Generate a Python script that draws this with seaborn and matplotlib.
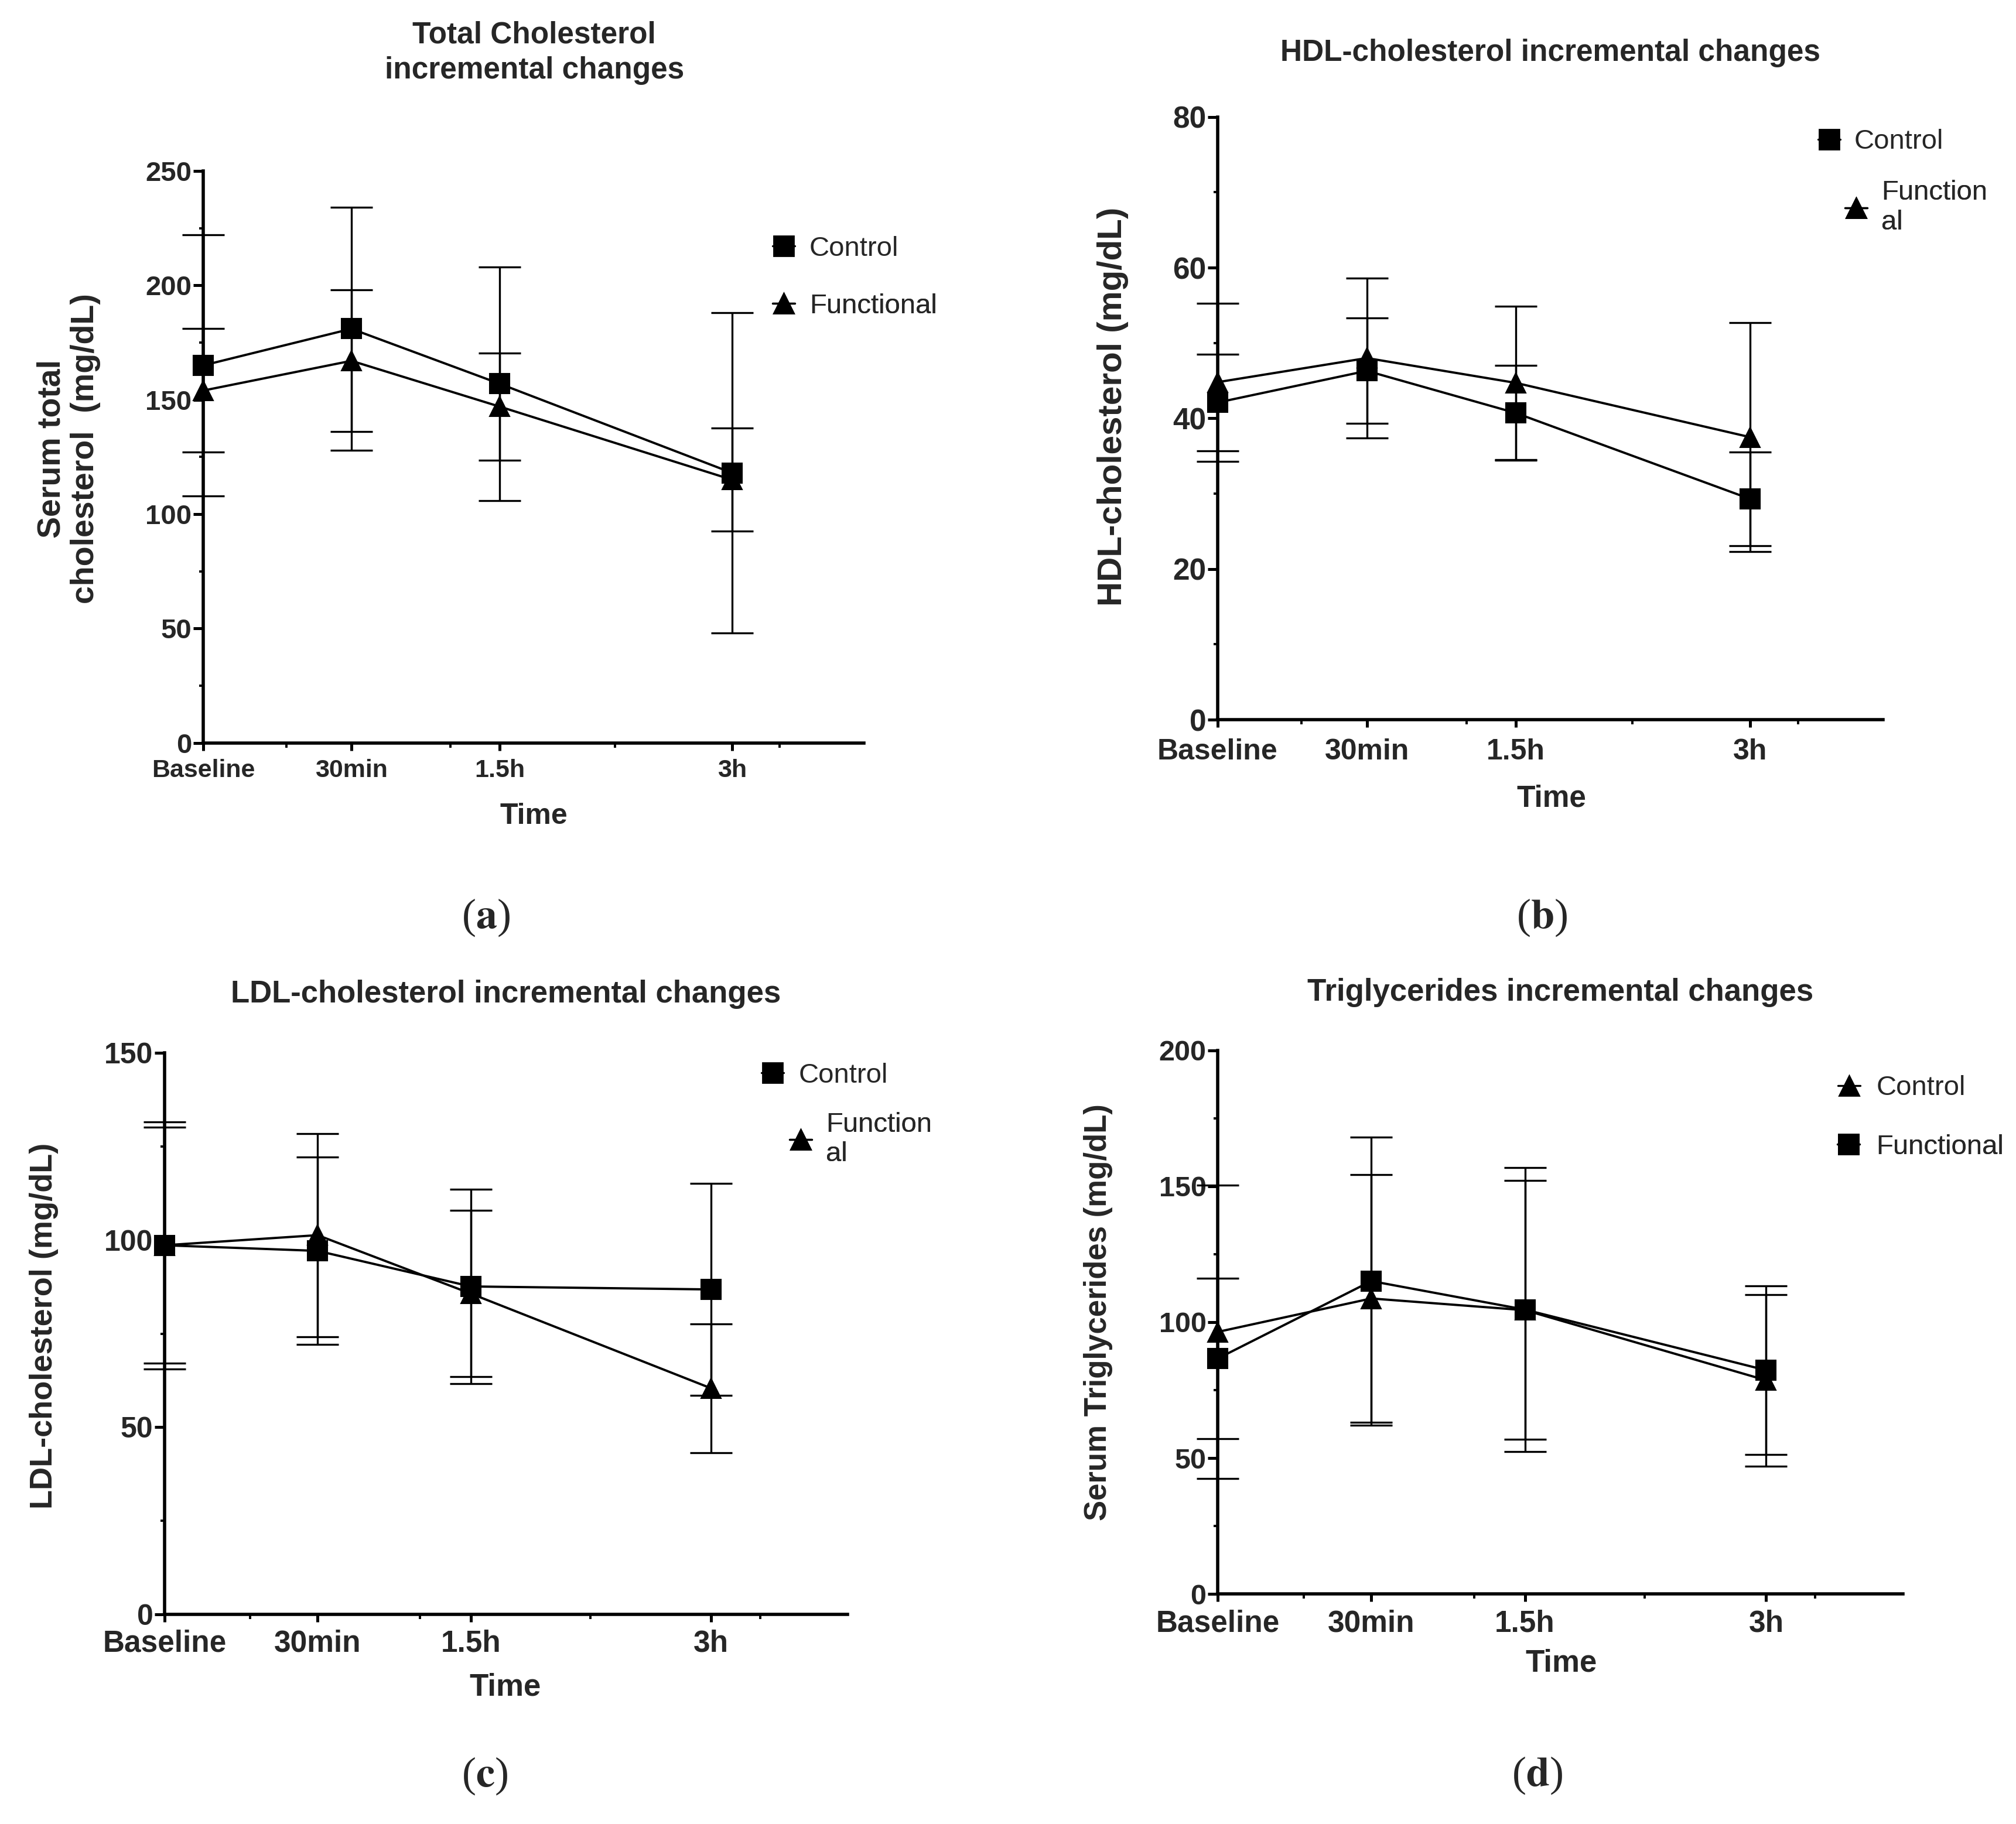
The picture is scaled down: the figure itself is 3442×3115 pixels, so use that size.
import numpy as np
import pandas as pd
import matplotlib
matplotlib.use("Agg")
import matplotlib.pyplot as plt
import seaborn as sns
from matplotlib.lines import Line2D
from matplotlib.ticker import FixedLocator, MultipleLocator

# ---------------- data ----------------
time_labels = ["Baseline", "30min", "1.5h", "3h"]

tc_control_mean = [165, 181, 157, 118]
tc_control_sd = [57, 53, 51, 70]
tc_functional_mean = [154, 167, 147, 115]
tc_functional_sd = [27, 31, 23.5, 22.5]

hdl_control_mean = [42.1, 46.3, 40.7, 29.3]
hdl_control_sd = [6.4, 7.0, 6.3, 6.2]
hdl_functional_mean = [44.8, 48.0, 44.7, 37.5]
hdl_functional_sd = [10.5, 10.6, 10.2, 15.2]

ldl_control_mean = [98.6, 97.1, 87.6, 86.8]
ldl_control_sd = [33.0, 25.0, 26.0, 28.3]
ldl_functional_mean = [98.6, 101.3, 85.7, 60.4]
ldl_functional_sd = [31.5, 27.1, 22.2, 17.2]

tg_control_mean = [96.4, 108.7, 104.4, 78.6]
tg_control_sd = [54.0, 45.6, 47.6, 31.5]
tg_functional_mean = [86.6, 115.1, 104.6, 82.3]
tg_functional_sd = [29.5, 53.0, 52.3, 31.0]

# ---------------- style ----------------
sns.set_theme(style="ticks")
plt.rcParams["font.family"] = ["Liberation Sans", "DejaVu Sans"]
plt.rcParams["mathtext.fontset"] = "stix"

W_PX, H_PX, DPI = 3442, 3115, 200
x_pos = [0, 1, 2, 3.57]
x_minor = [0.56, 1.67, 2.78, 3.89]
x_max = 4.46
LEG_FS = 17
HLEN = 0.8

fig = plt.figure(figsize=(W_PX / DPI, H_PX / DPI), dpi=DPI)

panels = [
    dict(rect=[0.1008, 0.5927, 0.3278, 0.3136], ymax=250, ymaj=50, ymin=25,
         c=(tc_control_mean, tc_control_sd), f=(tc_functional_mean, tc_functional_sd),
         markers={"Control": "s", "Functional": "^"},
         leg=[("Control", "Control", 0.3887, 0.8636, 0.4015),
              ("Functional", "Functional", 0.3887, 0.8321, 0.4015)],
         xtick_fs=15.5, ytick_fs=17, xpad=5),
    dict(rect=[0.604, 0.6054, 0.330, 0.3305], ymax=80, ymaj=20, ymin=10,
         c=(hdl_control_mean, hdl_control_sd), f=(hdl_functional_mean, hdl_functional_sd),
         markers={"Control": "s", "Functional": "^"},
         leg=[("Control", "Control", 0.9073, 0.9223, 0.9198),
              ("Functional", "Function\nal", 0.9207, 0.8863, 0.9332)],
         xtick_fs=18, ytick_fs=18.5, xpad=6.5),
    dict(rect=[0.0816, 0.1149, 0.3387, 0.3079], ymax=150, ymaj=50, ymin=25,
         c=(ldl_control_mean, ldl_control_sd), f=(ldl_functional_mean, ldl_functional_sd),
         markers={"Control": "s", "Functional": "^"},
         leg=[("Control", "Control", 0.3832, 0.4103, 0.3963),
              ("Functional", "Function\nal", 0.3972, 0.3753, 0.4097)],
         xtick_fs=18.5, ytick_fs=18, xpad=4.5),
    dict(rect=[0.604, 0.1261, 0.3399, 0.2981], ymax=200, ymaj=50, ymin=25,
         c=(tg_control_mean, tg_control_sd), f=(tg_functional_mean, tg_functional_sd),
         markers={"Control": "^", "Functional": "s"},
         leg=[("Control", "Control", 0.9172, 0.4035, 0.9306),
              ("Functional", "Functional", 0.9169, 0.3711, 0.9306)],
         xtick_fs=18.5, ytick_fs=17.5, xpad=4.5),
]

fs_px = LEG_FS * DPI / 72.0

for p in panels:
    ax = fig.add_axes(p["rect"])
    rows = []
    for grp, (m, s) in (("Control", p["c"]), ("Functional", p["f"])):
        for xi, mi, si in zip(x_pos, m, s):
            rows.append(dict(x=xi, mean=mi, sd=si, group=grp))
    df = pd.DataFrame(rows)
    for grp in ["Control", "Functional"]:
        d = df[df.group == grp]
        eb = ax.errorbar(d.x, d["mean"], yerr=d.sd, fmt="none", ecolor="black",
                         elinewidth=1.2, capsize=13, capthick=1.2, zorder=2)
        for art in list(eb.lines[1]) + list(eb.lines[2]):
            art.set_clip_on(False)
    sns.lineplot(data=df, x="x", y="mean", hue="group", style="group",
                 markers=p["markers"], dashes=False,
                 palette={"Control": "black", "Functional": "black"},
                 markersize=12.5, markeredgecolor="black", linewidth=1.4,
                 legend=False, ax=ax, zorder=3)
    for ln in ax.lines:
        ln.set_clip_on(False)

    ax.set_xlim(0, x_max)
    ax.set_ylim(0, p["ymax"])
    ax.set_xticks(x_pos)
    ax.set_xticklabels(time_labels, fontsize=p["xtick_fs"], fontweight="bold")
    ax.xaxis.set_minor_locator(FixedLocator(x_minor))
    ax.yaxis.set_major_locator(MultipleLocator(p["ymaj"]))
    ax.yaxis.set_minor_locator(MultipleLocator(p["ymin"]))
    for lab in ax.get_yticklabels():
        lab.set_fontsize(p["ytick_fs"])
        lab.set_fontweight("bold")
    ax.set_xlabel("")
    ax.set_ylabel("")
    sns.despine(ax=ax)
    for sp in ("left", "bottom"):
        ax.spines[sp].set_linewidth(2.0)
        ax.spines[sp].set_color("black")
    ax.tick_params(axis="y", which="major", length=6, width=1.8, color="black", pad=1)
    ax.tick_params(axis="y", which="minor", length=2.6, width=1.4, color="black")
    ax.tick_params(axis="x", which="major", length=4.8, width=1.8, color="black",
                   pad=p["xpad"])
    ax.tick_params(axis="x", which="minor", length=3.0, width=1.4, color="black")
    ax.grid(False)

    for grp, label, mx, my, tx in p["leg"]:
        h = Line2D([0], [0], color="black", lw=1.2, marker=p["markers"][grp],
                   markersize=12, markerfacecolor="black", markeredgecolor="black")
        pad = (tx - mx) * W_PX / fs_px - HLEN / 2
        anchor_x = mx - (HLEN / 2) * fs_px / W_PX
        leg = ax.legend([h], [label], loc="center left", bbox_to_anchor=(anchor_x, my),
                        bbox_transform=fig.transFigure, frameon=False, fontsize=LEG_FS,
                        handlelength=HLEN, handletextpad=pad, borderaxespad=0,
                        borderpad=0)
        ax.add_artist(leg)

# titles
title_kw = dict(ha="center", va="center", fontweight="bold")
fig.text(0.265, 0.971, "Total Cholesterol\nincremental changes", fontsize=18.5,
         linespacing=1.3, **title_kw)
fig.text(0.769, 0.971, "HDL-cholesterol incremental changes", fontsize=18.5, **title_kw)
fig.text(0.251, 0.455, "LDL-cholesterol incremental changes", fontsize=19, **title_kw)
fig.text(0.774, 0.456, "Triglycerides incremental changes", fontsize=19, **title_kw)

# y labels
ylab_kw = dict(ha="center", va="center", rotation=90, fontweight="bold")
fig.text(0.034, 0.754, "Serum total\ncholesterol  (mg/dL)", fontsize=20,
         linespacing=1.15, **ylab_kw)
fig.text(0.552, 0.777, "HDL-cholesterol (mg/dL)", fontsize=21, **ylab_kw)
fig.text(0.0219, 0.273, "LDL-cholesterol (mg/dL)", fontsize=19.5, **ylab_kw)
fig.text(0.5448, 0.2806, "Serum Triglycerides (mg/dL)", fontsize=19, **ylab_kw)

# x labels
xlab_kw = dict(ha="center", va="center", fontweight="bold")
fig.text(0.2647, 0.5525, "Time", fontsize=18, **xlab_kw)
fig.text(0.7697, 0.562, "Time", fontsize=18.5, **xlab_kw)
fig.text(0.2505, 0.0748, "Time", fontsize=19, **xlab_kw)
fig.text(0.7743, 0.088, "Time", fontsize=19, **xlab_kw)

# panel letters
pl_kw = dict(ha="center", va="center", fontsize=26, family="Liberation Serif")
fig.text(0.241, 0.497, r"($\mathbf{a}$)", **pl_kw)
fig.text(0.7647, 0.497, r"($\mathbf{b}$)", **pl_kw)
fig.text(0.2405, 0.0263, r"($\mathbf{c}$)", **pl_kw)
fig.text(0.7625, 0.0267, r"($\mathbf{d}$)", **pl_kw)

fig.savefig("out.png", dpi=DPI, facecolor="white")
